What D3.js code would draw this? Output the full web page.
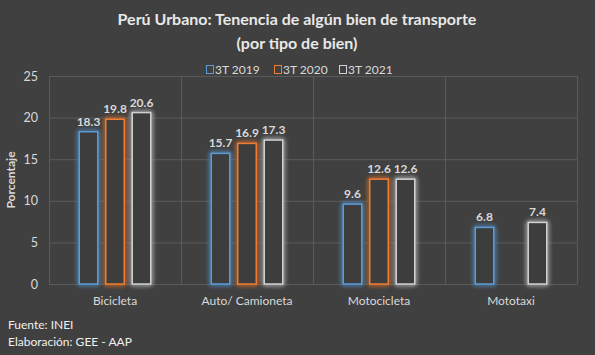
<!DOCTYPE html>
<html>
<head>
<meta charset="utf-8">
<script src="https://cdn.jsdelivr.net/npm/d3@7"></script>
<style>
  html, body { margin: 0; padding: 0; background: #404040; }
  svg { display: block; }
  text { font-family: Lato, "Open Sans", sans-serif; }
</style>
</head>
<body>
<svg id="chart" width="595" height="355"></svg>
<script>
const categories = ["Bicicleta", "Auto/ Camioneta", "Motocicleta", "Mototaxi"];
const seriesNames = ["3T 2019", "3T 2020", "3T 2021"];
const values2019 = [18.3, 15.7, 9.6, 6.8];
const values2020 = [19.8, 16.9, 12.6, null];
const values2021 = [20.6, 17.3, 12.6, 7.4];
const yTicks = [0, 5, 10, 15, 20, 25];
const seriesColors = ["#5b9bd5", "#ed7d31", "#d0d0d0"];

const seriesValues = [values2019, values2020, values2021];

const W = 595, H = 355;
const margin = { left: 49, right: 18, top: 76, bottom: 71 };
const svg = d3.select("#chart");

svg.append("rect").attr("width", W).attr("height", H).attr("fill", "#404040");

const defs = svg.append("defs");
seriesColors.forEach((c, i) => {
  const f = defs.append("filter").attr("id", "glow" + i)
    .attr("x", "-50%").attr("y", "-20%").attr("width", "200%").attr("height", "140%");
  f.append("feGaussianBlur").attr("in", "SourceGraphic").attr("stdDeviation", 2.5).attr("result", "b");
  const m = f.append("feMerge");
  m.append("feMergeNode").attr("in", "b");
  m.append("feMergeNode").attr("in", "b");
  m.append("feMergeNode").attr("in", "SourceGraphic");
});

const x0 = d3.scaleBand().domain(categories).range([margin.left, W - margin.right]).padding(0);
const groupW = 79.5;
const x1 = d3.scaleBand().domain(seriesNames).range([0, groupW]).paddingInner(0.245).paddingOuter(0.1225);
const y = d3.scaleLinear().domain([0, 25]).range([H - margin.bottom, margin.top]);

// gridlines
const grid = svg.append("g");
grid.selectAll("line.h").data(yTicks).join("line")
  .attr("x1", margin.left).attr("x2", W - margin.right)
  .attr("y1", d => y(d) + 0.5).attr("y2", d => y(d) + 0.5)
  .attr("stroke", "#5a5a5a").attr("stroke-width", 1);
const vlines = categories.map(c => x0(c)).concat([W - margin.right]);
grid.selectAll("line.v").data(vlines).join("line")
  .attr("x1", d => Math.round(d) + 0.5).attr("x2", d => Math.round(d) + 0.5)
  .attr("y1", y(25)).attr("y2", y(0))
  .attr("stroke", "#5a5a5a").attr("stroke-width", 1);

// y axis
const yAxis = d3.axisLeft(y).tickValues(yTicks).tickSize(0).tickPadding(11);
const ya = svg.append("g").attr("transform", `translate(${margin.left},0)`).call(yAxis);
ya.select(".domain").remove();
ya.selectAll("text").attr("fill", "#d9d9d9").attr("font-size", 12.5).style("font-family", "Lato, sans-serif");

// x axis
const xAxis = d3.axisBottom(x0).tickSize(0).tickPadding(12);
const xa = svg.append("g").attr("transform", `translate(0,${y(0)})`).call(xAxis);
xa.select(".domain").remove();
xa.selectAll("text").attr("fill", "#d9d9d9").attr("font-size", 12).style("font-family", "Lato, sans-serif");

// bars
seriesNames.forEach((s, si) => {
  const data = categories.map((c, ci) => ({ c, ci, v: seriesValues[si][ci] })).filter(d => d.v != null);
  const g = svg.append("g");
  g.selectAll("rect").data(data).join("rect")
    .attr("x", d => x0(d.c) + (x0.bandwidth() - groupW) / 2 + x1(s) + 0.75)
    .attr("y", d => y(d.v))
    .attr("width", x1.bandwidth() - 1.5)
    .attr("height", d => y(0) - y(d.v))
    .attr("fill", "#3c3c3c")
    .attr("stroke", seriesColors[si])
    .attr("stroke-width", 1.5)
    .attr("filter", `url(#glow${si})`);
  g.selectAll("text").data(data).join("text")
    .attr("x", d => x0(d.c) + (x0.bandwidth() - groupW) / 2 + x1(s) + x1.bandwidth() / 2)
    .attr("y", d => y(d.v) - 6)
    .attr("text-anchor", "middle")
    .attr("fill", "#d9d9d9")
    .attr("font-size", 12)
    .attr("font-weight", "bold")
    .text(d => d.v.toFixed(1));
});

// title
svg.append("text").attr("x", 297).attr("y", 25).attr("text-anchor", "middle")
  .attr("fill", "#e8e8e8").attr("font-size", 16).attr("font-weight", "bold")
  .text("Perú Urbano: Tenencia de algún bien de transporte");
svg.append("text").attr("x", 297).attr("y", 49).attr("text-anchor", "middle")
  .attr("fill", "#e8e8e8").attr("font-size", 16).attr("font-weight", "bold")
  .text("(por tipo de bien)");

// legend
const legendX = [206, 274, 339];
const lg = svg.append("g");
seriesNames.forEach((s, i) => {
  lg.append("rect").attr("x", legendX[i] + 0.5).attr("y", 65.5).attr("width", 7).attr("height", 8)
    .attr("fill", "none").attr("stroke", seriesColors[i]).attr("stroke-width", 1);
  lg.append("text").attr("x", legendX[i] + 9).attr("y", 74)
    .attr("fill", "#d9d9d9").attr("font-size", 12).text(s);
});

// y axis title
svg.append("text").attr("transform", `translate(15,${(y(0) + y(25)) / 2}) rotate(-90)`)
  .attr("text-anchor", "middle").attr("fill", "#d9d9d9").attr("font-size", 12).attr("font-weight", "bold")
  .text("Porcentaje");

// footer
svg.append("text").attr("x", 8).attr("y", 329).attr("fill", "#f0f0f0").attr("font-size", 12).text("Fuente: INEI");
svg.append("text").attr("x", 8).attr("y", 346).attr("fill", "#f0f0f0").attr("font-size", 12).text("Elaboración: GEE - AAP");
</script>
</body>
</html>
